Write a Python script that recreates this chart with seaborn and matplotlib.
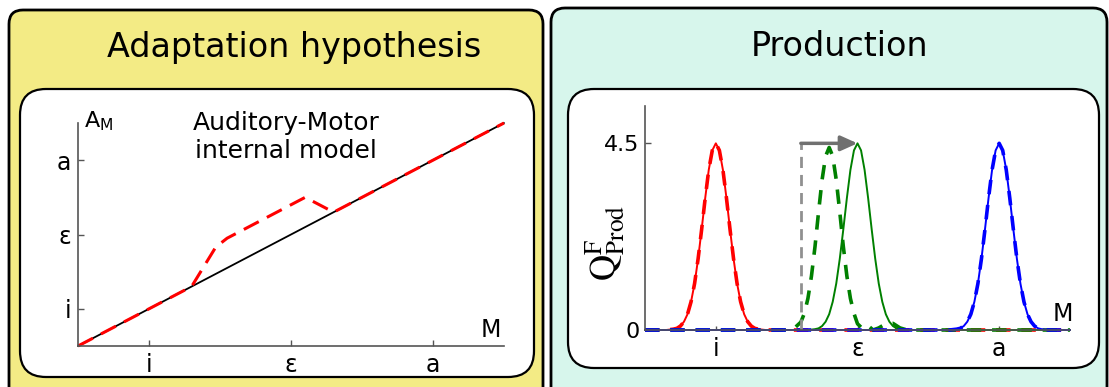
import numpy as np
import pandas as pd
import seaborn as sns
import matplotlib.pyplot as plt
from matplotlib.patches import FancyBboxPatch

# tick labels / categories
vowels = ['i', 'ε', 'a']
vowel_pos = [1, 2, 3]

# left panel: auditory-motor internal model
model_x = [0.5, 3.5]
model_y = [0.5, 3.5]
adapt_x = [0.5, 1.3, 1.47, 1.55, 2.1, 2.3, 3.5]
adapt_y = [0.5, 1.3, 1.83, 1.95, 2.5, 2.3, 3.5]

# right panel: production peaks
peak_offsets = [-0.35, -0.325, -0.3, -0.275, -0.25, -0.225, -0.2, -0.175, -0.15, -0.125,
                -0.1, -0.075, -0.05, -0.025, 0.0, 0.025, 0.05, 0.075, 0.1, 0.125,
                0.15, 0.175, 0.2, 0.225, 0.25, 0.275, 0.3, 0.325, 0.35]
peak_heights = [0.0, 0.01, 0.02, 0.04, 0.095, 0.2, 0.38, 0.68, 1.12, 1.72,
                2.43, 3.18, 3.86, 4.33, 4.5, 4.33, 3.86, 3.18, 2.43, 1.72,
                1.12, 0.68, 0.38, 0.2, 0.095, 0.04, 0.02, 0.01, 0.0]
centers = {'red': 1.0, 'green': 2.0, 'blue': 3.0}

# shifted (adapted) production of ε, dashed green
shift_x = [1.5, 1.55, 1.6, 1.625, 1.65, 1.675, 1.7, 1.725, 1.75, 1.775, 1.8, 1.825,
           1.85, 1.875, 1.9, 1.925, 1.95, 1.975, 2.0, 2.03, 2.07, 2.11, 2.15, 2.2,
           2.25, 2.3, 2.35, 2.4]
shift_y = [0.0, 0.03, 0.19, 0.4, 0.76, 1.3, 2.01, 2.84, 3.62, 4.19, 4.4, 4.19,
           3.62, 2.84, 2.01, 1.3, 0.76, 0.4, 0.15, 0.05, 0.12, 0.0, 0.05, 0.15,
           0.16, 0.05, 0.0, 0.0]
start_x = 1.6
y_max = 4.5

W, H = 1109, 387
sns.set_style('white')
plt.rcParams['font.family'] = ['DejaVu Sans']
plt.rcParams['mathtext.fontset'] = 'dejavusans'
plt.rcParams['text.color'] = 'black'
plt.rcParams['xtick.color'] = 'black'
plt.rcParams['ytick.color'] = 'black'
fig = plt.figure(figsize=(W / 100, H / 100), dpi=100)


def box(x0, y0, x1, y1, r, color, lw):
    # pixel coords (top-left origin) -> inches
    p = FancyBboxPatch((x0 / 100, (H - y1) / 100), (x1 - x0) / 100, (y1 - y0) / 100,
                       boxstyle=f'round,pad=0,rounding_size={r / 100}',
                       transform=fig.dpi_scale_trans, facecolor=color,
                       edgecolor='black', lw=lw, zorder=-10)
    fig.patches.append(p)


box(9, 10, 543, 420, 14, '#f3eb85', 2.0)
box(551, 8, 1107, 420, 14, '#d7f6ec', 2.0)
box(20, 89, 534, 377, 26, 'white', 1.6)
box(568, 89, 1099, 368, 26, 'white', 1.6)

fig.text(294 / W, 1 - 47 / H, 'Adaptation hypothesis', ha='center', va='center', fontsize=24)
fig.text(840 / W, 1 - 47 / H, 'Production', ha='center', va='center', fontsize=24)

axis_col = '#555555'

# ---- left panel
ax1 = fig.add_axes([78 / W, 1 - 346 / H, 426 / W, 223 / H])
ax1.set_facecolor('none')
sns.lineplot(x=model_x, y=model_y, ax=ax1, color='black', lw=1.3, clip_on=False)
sns.lineplot(x=adapt_x, y=adapt_y, ax=ax1, color='red', lw=2.2, linestyle=(0, (5.5, 3)),
             sort=False, estimator=None, clip_on=False)
ax1.set_xlim(0.5, 3.5)
ax1.set_ylim(0.5, 3.5)
ax1.set_xticks(vowel_pos, vowels)
ax1.set_yticks(vowel_pos, vowels)
ax1.text(0.014, 0.982, r'A$_{\mathrm{M}}$', transform=ax1.transAxes, fontsize=16, va='baseline')
ax1.text(0.969, 0.04, 'M', transform=ax1.transAxes, fontsize=17, ha='center', va='baseline')
ax1.text(0.488, 1.055, 'Auditory-Motor\ninternal model', transform=ax1.transAxes,
         fontsize=18, ha='center', va='top', linespacing=1.25)

# ---- right panel
ax2 = fig.add_axes([645 / W, 1 - 330 / H, 425 / W, 224 / H])
ax2.set_facecolor('none')
for col, c in centers.items():
    xs = [0.5] + [c + d for d in peak_offsets] + [3.5]
    ys = [0.0] + peak_heights + [0.0]
    df = pd.DataFrame({'x': xs, 'y': ys})
    sns.lineplot(data=df, x='x', y='y', ax=ax2, color=col, lw=1.4, sort=False,
                 estimator=None, clip_on=False)
    if col == 'green':
        df2 = pd.DataFrame({'x': [0.5] + shift_x + [3.5], 'y': [0.0] + shift_y + [0.0]})
    else:
        df2 = df
    sns.lineplot(data=df2, x='x', y='y', ax=ax2, color=col, lw=2.6,
                 linestyle=(0, (4, 3)), sort=False, estimator=None, clip_on=False)

ax2.plot([start_x, start_x], [0, y_max], color='#909090', lw=2, linestyle=(0, (4, 2.5)))
ax2.annotate('', xy=(centers['green'], y_max), xytext=(start_x, y_max),
             arrowprops=dict(arrowstyle='-|>,head_length=1.0,head_width=0.45',
                             color='#707070', lw=2.5, shrinkA=0, shrinkB=0))
ax2.set_xlim(0.5, 3.5)
ax2.set_ylim(0, 5.4)
ax2.set_xticks(vowel_pos, vowels)
ax2.set_yticks([0, 4.5], ['0', '4.5'])
ax2.text(0.984, 0.04, 'M', transform=ax2.transAxes, fontsize=17, ha='center', va='baseline')
fig.text(605 / W, 1 - 243 / H, r'$\mathrm{Q}^{\mathrm{F}}_{\mathrm{Prod}}$', rotation=90,
         ha='center', va='center', fontsize=26, math_fontfamily='stix')

for ax in (ax1, ax2):
    ax.set_xlabel('')
    ax.set_ylabel('')
    for s in ('top', 'right'):
        ax.spines[s].set_visible(False)
    for s in ('left', 'bottom'):
        ax.spines[s].set_color(axis_col)
        ax.spines[s].set_linewidth(1.2)
    ax.tick_params(bottom=True, left=True, direction='in', length=4, width=1,
                   color=axis_col, labelcolor='black', labelsize=17, pad=5)
ax2.tick_params(axis='y', labelsize=16, pad=4)
ax2.tick_params(axis='x', length=3)

fig.savefig('out.png', dpi=100)
